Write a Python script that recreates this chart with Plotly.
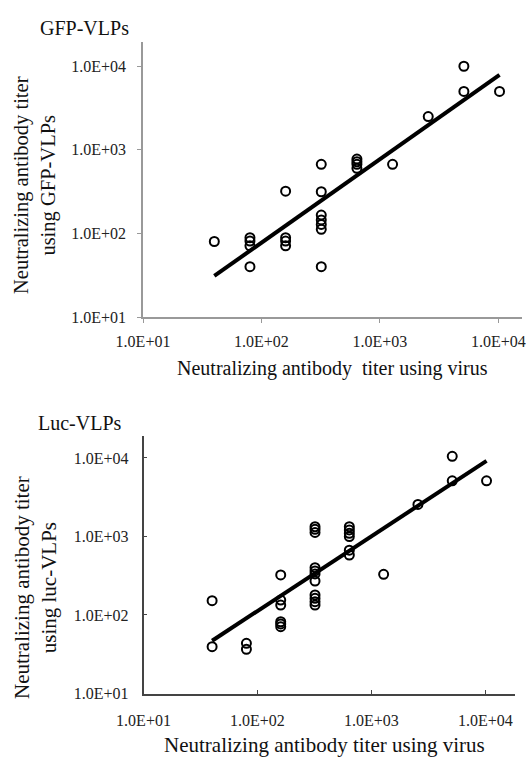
import plotly.graph_objects as go

# ---- data: top panel (GFP-VLPs) ----
gfp_virus = [40, 80, 80, 80, 80, 160, 160, 160, 160,
             320, 320, 320, 320, 320, 320, 320,
             640, 640, 640, 640, 1280, 2560, 5120, 5120, 10240]
gfp_vlp = [80, 89, 81, 71, 40, 320, 89, 81, 71,
           670, 315, 166, 145, 128, 112, 40,
           775, 720, 670, 600, 670, 2500, 10000, 5000, 5000]
gfp_fit_x = [40, 10240]
gfp_fit_y = [31, 7900]

# ---- data: bottom panel (Luc-VLPs) ----
luc_virus = [40, 40, 80, 80, 160, 160, 160, 160, 160, 160,
             320, 320, 320, 320, 320, 320, 320, 320, 320, 320, 320,
             640, 640, 640, 640, 640, 640, 1280, 2560, 5120, 5120, 10240]
luc_vlp = [152, 39.5, 43.6, 36.6, 324, 155, 134, 82, 77, 71,
           1330, 1235, 1127, 400, 364, 333, 271, 180, 163, 148, 134,
           1330, 1211, 1100, 996, 670, 581, 330, 2560, 10500, 5120, 5120]
luc_fit_x = [40, 10240]
luc_fit_y = [47, 9200]

tick_vals = [10, 100, 1000, 10000]
tick_text = ["1.0E+01", "1.0E+02", "1.0E+03", "1.0E+04"]

FONT = "Liberation Serif"
W, H = 527, 757

fig = go.Figure()

marker = dict(symbol="circle-open", size=9, color="black", line=dict(width=2, color="black"))

fig.add_trace(go.Scatter(x=gfp_virus, y=gfp_vlp, mode="markers", marker=marker,
                         xaxis="x", yaxis="y", showlegend=False))
fig.add_trace(go.Scatter(x=gfp_fit_x, y=gfp_fit_y, mode="lines",
                         line=dict(color="black", width=4),
                         xaxis="x", yaxis="y", showlegend=False))
fig.add_trace(go.Scatter(x=luc_virus, y=luc_vlp, mode="markers", marker=marker,
                         xaxis="x2", yaxis="y2", showlegend=False))
fig.add_trace(go.Scatter(x=luc_fit_x, y=luc_fit_y, mode="lines",
                         line=dict(color="black", width=4),
                         xaxis="x2", yaxis="y2", showlegend=False))

def ax(domain, rng, anchor, color, ticks, standoff):
    return dict(type="log", domain=domain, range=rng, anchor=anchor,
                tickvals=tick_vals, ticktext=tick_text,
                showgrid=False, zeroline=False, showline=True, automargin=False,
                linecolor=color, linewidth=1.5, ticks=ticks, ticklen=4,
                tickcolor=color, tickwidth=1, ticklabelstandoff=standoff,
                ticklabeloverflow="allow",
                tickfont=dict(family=FONT, size=16, color="#222"))

fig.update_layout(
    template="none",
    width=W, height=H,
    margin=dict(l=0, r=0, t=0, b=0),
    paper_bgcolor="white", plot_bgcolor="white",
    xaxis=ax([143/W, 522/W], [1, 4.2], "y", "#999", "outside", 5),
    yaxis=ax([1-317/H, 1-42/H], [1, 4.29], "x", "#999", "outside", 8),
    xaxis2=ax([143.5/W, 515/W], [1, 4.26], "y2", "#444", "inside", 12),
    yaxis2=ax([1-693.5/H, 1-436/H], [1, 4.28], "x2", "#444", "inside", 10),
)

def ann(text, x, y, size, angle=0):
    return dict(text=text, x=x/W, y=1-y/H, xref="paper", yref="paper",
                showarrow=False, textangle=angle,
                font=dict(family=FONT, size=size, color="#111"),
                xanchor="center", yanchor="middle")

fig.update_layout(annotations=[
    ann("GFP-VLPs", 84, 28, 20),
    ann("Neutralizing antibody titer<br>using GFP-VLPs", 35, 185, 20.5, -90),
    ann("Neutralizing antibody \u00a0titer using virus", 332, 368, 20),
    ann("Luc-VLPs", 80, 423, 20),
    ann("Neutralizing antibody titer<br>using luc-VLPs", 35, 588, 21, -90),
    ann("Neutralizing antibody titer using virus", 324, 745, 21),
])

fig.write_html("out.html")
